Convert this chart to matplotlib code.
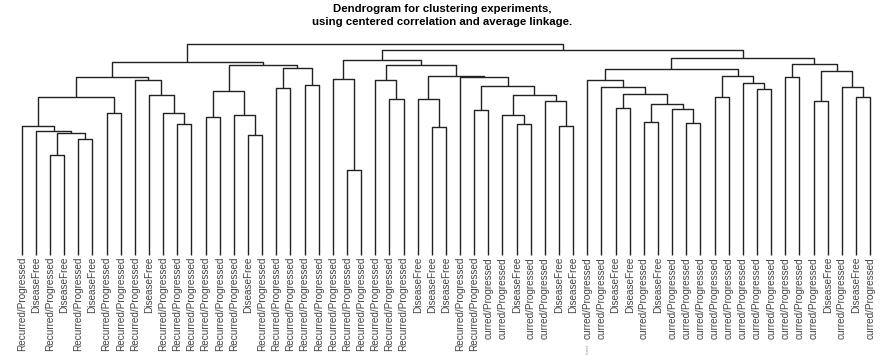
#!/usr/bin/env python3
"""Dendrogram of 61 experiments (centered correlation, average linkage)."""

import matplotlib

matplotlib.use("Agg")
import matplotlib.pyplot as plt

RP = "Recurred/Progressed"
CP = "curred/Progressed"  # labels whose start is clipped in the original
DF = "DiseaseFree"

# Leaf labels in display order (left to right)
leaf_labels = [
    RP, DF, RP, DF, RP, DF, RP, RP, RP, DF,
    RP, RP, RP, RP, RP, RP, DF, RP, RP, RP,
    RP, RP, RP, RP, RP, RP, RP, RP, DF, DF,
    DF, RP, RP, CP, CP, DF, CP, CP, DF, DF,
    CP, CP, DF, DF, CP, DF, CP, CP, CP, CP,
    CP, CP, CP, CP, CP, CP, CP, DF, CP, DF,
    CP,
]

# Merge table, hclust style: negative = leaf position (1-based),
# positive = earlier merge row (1-based)
merge_a = [
    -3, -5, 1, -2, -1, -7, 5, -12, -11, -10,
    -9, 7, -14, -17, -16, 13, -19, -21, 17, 16,
    12, -24, -23, -27, -26, -30, -29, -33, -36, -35,
    -39, -38, 30, 28, -32, 27, 25, 23, -43, -45,
    -48, -47, 40, 39, -42, -41, -50, -53, -52, 47,
    46, -55, -57, -60, -59, 53, 52, 51, 38, 21,
]
merge_b = [
    -4, -6, 2, 3, 4, -8, 6, -13, 8, 9,
    10, 11, -15, -18, 14, 15, -20, -22, 18, 19,
    20, -25, 22, -28, 24, -31, 26, -34, -37, 29,
    -40, 31, 32, 33, 34, 35, 36, 37, -44, -46,
    -49, 41, 42, 43, 44, 45, -51, -54, 48, 49,
    50, -56, -58, -61, 54, 55, 56, 57, 58, 59,
]
merge_height = [
    0.475, 0.548, 0.580, 0.589, 0.613, 0.674, 0.747, 0.622, 0.672, 0.758,
    0.828, 0.845, 0.654, 0.569, 0.662, 0.777, 0.791, 0.806, 0.885, 0.902,
    0.913, 0.403, 0.834, 0.739, 0.828, 0.605, 0.739, 0.686, 0.622, 0.664,
    0.611, 0.730, 0.760, 0.801, 0.845, 0.850, 0.899, 0.924, 0.698, 0.632,
    0.626, 0.691, 0.714, 0.764, 0.798, 0.828, 0.750, 0.785, 0.814, 0.850,
    0.880, 0.845, 0.728, 0.747, 0.798, 0.871, 0.904, 0.935, 0.972, 1.000,
]

TITLE = ("Dendrogram for clustering experiments,\n"
         "using centered correlation and average linkage.")

plt.rcParams["font.family"] = ["Liberation Sans", "DejaVu Sans"]

fig = plt.figure(figsize=(8.85, 3.55), dpi=100)
ax = fig.add_axes([0, 0, 1, 1])
ax.set_xlim(-0.535, 62.05)
ax.set_ylim(-0.474, 1.2085)
ax.axis("off")

LINE = dict(color="#222222", lw=1.0, solid_capstyle="butt")


def node_pos(ref):
    """x position and height of a leaf or merged node."""
    if ref < 0:
        return float(-ref), 0.0
    return pos[ref - 1]


pos = []
for a, b, h in zip(merge_a, merge_b, merge_height):
    xa, ha = node_pos(a)
    xb, hb = node_pos(b)
    ax.plot([xa, xa, xb, xb], [ha, h, h, hb], **LINE)
    pos.append(((xa + xb) / 2, h))

for i, lab in enumerate(leaf_labels, start=1):
    ax.text(i, -0.01, lab, rotation=90, ha="center", va="top",
            fontsize=7.2, color="#444444")

# stray tiny label under leaf 41 in the original image
ax.text(41, -0.447, "Recurred", rotation=90, ha="center", va="center",
        fontsize=1.9, color="#888888")

fig.text(0.5, 0.99, TITLE, ha="center", va="top", fontsize=8.2,
         fontweight="bold", linespacing=1.45)

fig.savefig("out.png", dpi=100)
